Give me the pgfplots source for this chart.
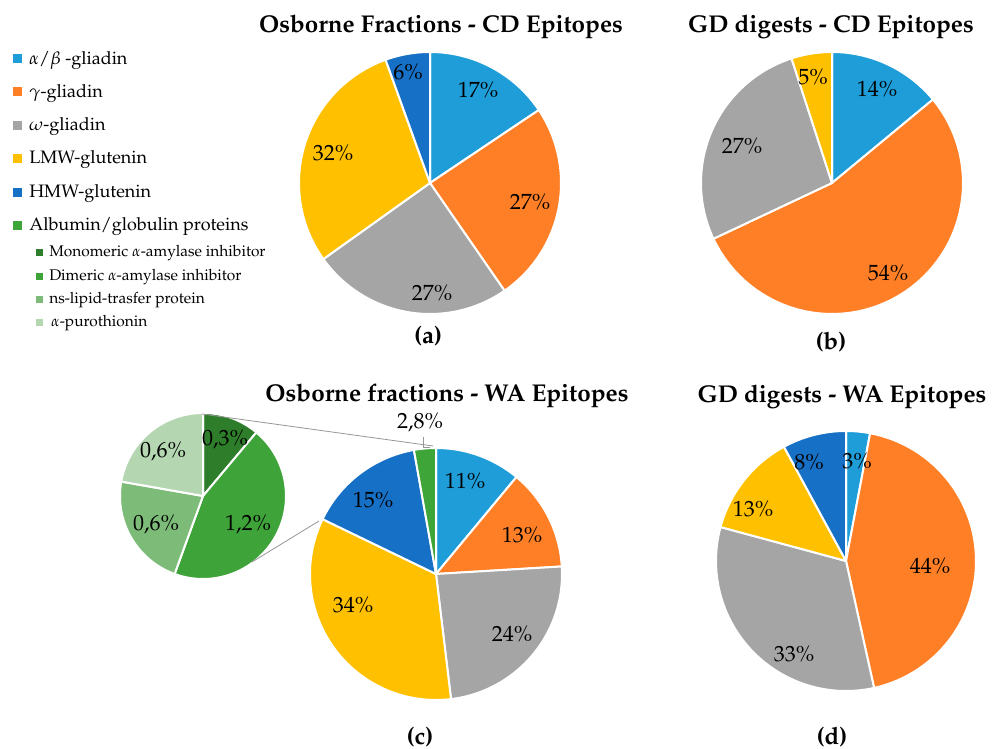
\documentclass[border=0pt]{standalone}
\usepackage[T1]{fontenc}
\usepackage{mathpazo}
\usepackage{pgfplots}
\pgfplotsset{compat=1.18}
\definecolor{cAB}{RGB}{30,157,217}
\definecolor{cG}{RGB}{255,127,39}
\definecolor{cO}{RGB}{165,165,165}
\definecolor{cL}{RGB}{255,192,0}
\definecolor{cH}{RGB}{22,112,197}
\definecolor{cAlb}{RGB}{62,165,57}
\definecolor{cMon}{RGB}{46,125,42}
\definecolor{cDim}{RGB}{62,163,57}
\definecolor{cNs}{RGB}{125,188,120}
\definecolor{cPur}{RGB}{180,215,178}
\definecolor{cLine}{RGB}{150,150,150}
% slice: cx, cy, r, start value, end value, total, colour (values cumulative, clockwise from 12 o'clock)
\newcommand\slice[7]{%
  \fill[#7,draw=white,line width=1.5pt,line join=round]
    (axis cs:#1,#2) -- plot[domain={360*(#4/#6)}:{360*(#5/#6)}, samples=60, variable=\t]
    (axis cs:{#1+#3*sin(\t)},{#2+#3*cos(\t)}) -- cycle;}
\newcommand\pctf{\fontsize{16.5}{19}\selectfont}
\newcommand\ttlf{\fontsize{18.2}{21}\selectfont\bfseries}
\newcommand\labf{\fontsize{18}{21}\selectfont\bfseries}
\newcommand\legf{\fontsize{13.5}{16}\selectfont}
\newcommand\sublegf{\fontsize{11.6}{14}\selectfont}
\begin{document}
\begin{tikzpicture}
\begin{axis}[hide axis, scale only axis, width=744pt, height=561.75pt, xmin=0, xmax=992, ymin=0, ymax=749, clip=false, xtick=\empty, ytick=\empty]
% (a) Osborne fractions - CD: 17, 27, 27, 32, 6
\slice{430}{566}{131}{0}{17}{109}{cAB}
\slice{430}{566}{131}{17}{44}{109}{cG}
\slice{430}{566}{131}{44}{71}{109}{cO}
\slice{430}{566}{131}{71}{103}{109}{cL}
\slice{430}{566}{131}{103}{109}{109}{cH}
% (b) GD digests - CD: 14, 54, 27, 5
\slice{832}{566}{131}{0}{14}{100}{cAB}
\slice{832}{566}{131}{14}{68}{100}{cG}
\slice{832}{566}{131}{68}{95}{100}{cO}
\slice{832}{566}{131}{95}{100}{100}{cL}
% (c) Osborne fractions - WA: 11, 13, 24, 34, 15, 2.8
\slice{436}{175}{126}{0}{11}{99.8}{cAB}
\slice{436}{175}{126}{11}{24}{99.8}{cG}
\slice{436}{175}{126}{24}{48}{99.8}{cO}
\slice{436}{175}{126}{48}{82}{99.8}{cL}
\slice{436}{175}{126}{82}{97}{99.8}{cH}
\slice{436}{175}{126}{97}{99.8}{99.8}{cAlb}
% secondary pie: 0.3, 1.2, 0.6, 0.6
\slice{203}{253}{83}{0}{0.3}{2.7}{cMon}
\slice{203}{253}{83}{0.3}{1.5}{2.7}{cDim}
\slice{203}{253}{83}{1.5}{2.1}{2.7}{cNs}
\slice{203}{253}{83}{2.1}{2.7}{2.7}{cPur}
% (d) GD digests - WA: 3, 44, 33, 13, 8
\slice{846}{188}{130}{0}{3}{101}{cAB}
\slice{846}{188}{130}{3}{47}{101}{cG}
\slice{846}{188}{130}{47}{80}{101}{cO}
\slice{846}{188}{130}{80}{93}{101}{cL}
\slice{846}{188}{130}{93}{101}{101}{cH}
% connector lines
\draw[cLine,line width=0.6pt] (axis cs:202,335) -- (axis cs:433,303);
\draw[cLine,line width=0.6pt] (axis cs:252,187) -- (axis cs:319,228);
\draw[cLine,line width=0.6pt] (axis cs:423,312) -- (axis cs:423,302) -- (axis cs:430,302);
% percentage labels
\node[font=\pctf] at (axis cs:478,659) {17\%};
\node[font=\pctf] at (axis cs:530,547) {27\%};
\node[font=\pctf] at (axis cs:432,456) {27\%};
\node[font=\pctf] at (axis cs:333,596) {32\%};
\node[font=\pctf] at (axis cs:408,677) {6\%};
\node[font=\pctf] at (axis cs:877,660) {14\%};
\node[font=\pctf] at (axis cs:888,476) {54\%};
\node[font=\pctf] at (axis cs:742,603) {27\%};
\node[font=\pctf] at (axis cs:813,672) {5\%};
\node[font=\pctf] at (axis cs:465,268) {11\%};
\node[font=\pctf] at (axis cs:522,214) {13\%};
\node[font=\pctf] at (axis cs:512,115) {24\%};
\node[font=\pctf] at (axis cs:353,144) {34\%};
\node[font=\pctf] at (axis cs:373,249) {15\%};
\node[font=\pctf] at (axis cs:420,326) {2,8\%};
\node[font=\pctf] at (axis cs:225,309) {0,3\%};
\node[font=\pctf] at (axis cs:163,297) {0,6\%};
\node[font=\pctf] at (axis cs:156,224) {0,6\%};
\node[font=\pctf] at (axis cs:248,224) {1,2\%};
\node[font=\pctf] at (axis cs:857,288) {3\%};
\node[font=\pctf] at (axis cs:930,183) {44\%};
\node[font=\pctf] at (axis cs:794,95) {33\%};
\node[font=\pctf] at (axis cs:753,240) {13\%};
\node[font=\pctf] at (axis cs:809,287) {8\%};
% titles
\node[font=\ttlf] at (axis cs:441,722) {Osborne Fractions - CD Epitopes};
\node[font=\ttlf] at (axis cs:831,722) {GD digests - CD Epitopes};
\node[font=\ttlf] at (axis cs:447,353) {Osborne fractions - WA Epitopes};
\node[font=\ttlf] at (axis cs:842,352) {GD digests - WA Epitopes};
\node[font=\labf] at (axis cs:428,413) {(a)};
\node[font=\labf] at (axis cs:831,407) {(b)};
\node[font=\labf] at (axis cs:420,12) {(c)};
\node[font=\labf] at (axis cs:832,12) {(d)};
% legend
\fill[cAB] (axis cs:13,694.5) rectangle (axis cs:22,685.5);
\fill[cG] (axis cs:13,661.5) rectangle (axis cs:22,652.5);
\fill[cO] (axis cs:13,627.5) rectangle (axis cs:22,618.5);
\fill[cL] (axis cs:13,594.5) rectangle (axis cs:22,585.5);
\fill[cH] (axis cs:13,561) rectangle (axis cs:22,552);
\fill[cAlb] (axis cs:13,528) rectangle (axis cs:22,519);
\fill[cMon] (axis cs:36,500) rectangle (axis cs:43,493);
\fill[cDim] (axis cs:36,476) rectangle (axis cs:43,469);
\fill[cNs] (axis cs:36,453) rectangle (axis cs:43,446);
\fill[cPur] (axis cs:36,430) rectangle (axis cs:43,423);
\node[font=\legf,anchor=base west,inner sep=0pt] at (axis cs:29,684) {$\alpha$/$\beta$ -gliadin};
\node[font=\legf,anchor=base west,inner sep=0pt] at (axis cs:29,651) {$\gamma$-gliadin};
\node[font=\legf,anchor=base west,inner sep=0pt] at (axis cs:29,618) {$\omega$-gliadin};
\node[font=\legf,anchor=base west,inner sep=0pt] at (axis cs:29,585) {LMW-glutenin};
\node[font=\legf,anchor=base west,inner sep=0pt] at (axis cs:29,551) {HMW-glutenin};
\node[font=\legf,anchor=base west,inner sep=0pt] at (axis cs:29,518) {Albumin/globulin proteins};
\node[font=\sublegf,anchor=base west,inner sep=0pt] at (axis cs:49,492) {Monomeric $\alpha$-amylase inhibitor};
\node[font=\sublegf,anchor=base west,inner sep=0pt] at (axis cs:49,468) {Dimeric $\alpha$-amylase inhibitor};
\node[font=\sublegf,anchor=base west,inner sep=0pt] at (axis cs:49,445) {ns-lipid-trasfer protein};
\node[font=\sublegf,anchor=base west,inner sep=0pt] at (axis cs:51,422) {$\alpha$-purothionin};
\end{axis}
\pgfresetboundingbox
\path (current axis.south west) rectangle (current axis.north east);
\end{tikzpicture}
\end{document}
